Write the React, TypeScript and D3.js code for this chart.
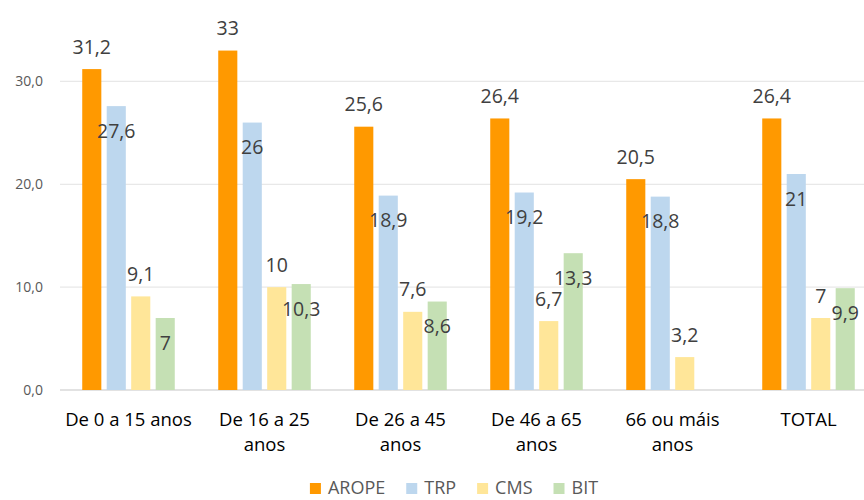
import React from "react";
import * as d3 from "d3";
import { useEffect, useRef } from "react";

// chart size
const width = 864;
const height = 500;

// data
const categories = [
  "De 0 a 15 anos",
  "De 16 a 25 anos",
  "De 26 a 45 anos",
  "De 46 a 65 anos",
  "66 ou máis anos",
  "TOTAL",
];
const series = ["AROPE", "TRP", "CMS", "BIT"];
const arope = [31.2, 33, 25.6, 26.4, 20.5, 26.4];
const trp = [27.6, 26, 18.9, 19.2, 18.8, 21];
const cms = [9.1, 10, 7.6, 6.7, 3.2, 7];
const bit = [7, 10.3, 8.6, 13.3, null, 9.9];
const yTicks = [0, 10, 20, 30];

const colors = ["#FF9900", "#BDD7EE", "#FFE699", "#C5E0B4"];
// TRP and BIT labels sit inside the bar end, the other two above it
const inside = [false, true, false, true];

const font = "'Open Sans', sans-serif";
const comma = (v: number) => String(v).replace(".", ",");

const App = () => {
  const ref = useRef<SVGSVGElement>(null);

  useEffect(() => {
    const svg = d3.select(ref.current);
    svg.selectAll("*").remove();

    const values = [arope, trp, cms, bit];
    const rows = categories.flatMap((c, i) =>
      series.map((s, j) => ({ c, s, j, v: values[j][i] }))
    );

    const x0 = d3
      .scaleBand()
      .domain(categories)
      .range([60.5, 876.5])
      .paddingInner(0.28)
      .paddingOuter(0.14);
    const x1 = d3
      .scaleBand()
      .domain(series)
      .range([0, x0.bandwidth()])
      .paddingInner(0.22)
      .paddingOuter(0.11);
    const y = d3.scaleLinear().domain([0, 35]).range([390, 30]);

    // gridlines
    svg
      .append("g")
      .selectAll("line")
      .data(yTicks)
      .join("line")
      .attr("x1", 60)
      .attr("x2", width)
      .attr("y1", (d) => y(d))
      .attr("y2", (d) => y(d))
      .attr("stroke", (d) => (d === 0 ? "#d9d9d9" : "#e8e8e8"))
      .attr("stroke-width", 1.3);

    // y tick labels
    svg
      .append("g")
      .selectAll("text")
      .data(yTicks)
      .join("text")
      .attr("x", 43)
      .attr("y", (d) => y(d))
      .attr("dy", "0.36em")
      .attr("text-anchor", "end")
      .attr("font-family", font)
      .attr("font-size", 14)
      .attr("fill", "#595959")
      .text((d) => d3.format(".1f")(d).replace(".", ","));

    // bars
    const bars = rows.filter((d) => d.v !== null);
    svg
      .append("g")
      .selectAll("rect")
      .data(bars)
      .join("rect")
      .attr("x", (d) => x0(d.c)! + x1(d.s)!)
      .attr("width", x1.bandwidth())
      .attr("y", (d) => y(d.v as number))
      .attr("height", (d) => y(0) - y(d.v as number))
      .attr("fill", (d) => colors[d.j]);

    // value labels
    svg
      .append("g")
      .selectAll("text")
      .data(bars)
      .join("text")
      .attr("x", (d) => x0(d.c)! + x1(d.s)! + x1.bandwidth() / 2)
      .attr("y", (d) => y(d.v as number) + (inside[d.j] ? 31.5 : -15.5))
      .attr("text-anchor", "middle")
      .attr("font-family", font)
      .attr("font-size", 19.5)
      .attr("fill", "#404040")
      .text((d) => comma(d.v as number));

    // category labels, wrapped like the original
    const cat = svg
      .append("g")
      .selectAll("text")
      .data(categories)
      .join("text")
      .attr("x", (d) => x0(d)! + x0.bandwidth() / 2)
      .attr("y", 426)
      .attr("text-anchor", "middle")
      .attr("font-family", font)
      .attr("font-size", 18.5)
      .attr("fill", "#000");
    cat.each(function (d) {
      const t = d3.select(this);
      const cx = +t.attr("x");
      const words = d.split(" ");
      let line: string[] = [];
      let lineNo = 0;
      let tspan = t.append("tspan").attr("x", cx).attr("y", 426);
      for (const w of words) {
        line.push(w);
        tspan.text(line.join(" "));
        if ((tspan.node() as SVGTSpanElement).getComputedTextLength() > 130 && line.length > 1) {
          line.pop();
          tspan.text(line.join(" "));
          line = [w];
          lineNo++;
          tspan = t
            .append("tspan")
            .attr("x", cx)
            .attr("y", 426 + lineNo * 25)
            .text(w);
        }
      }
    });

    // legend
    const legend = svg.append("g");
    const items = legend
      .selectAll("g")
      .data(series)
      .join("g");
    items
      .append("rect")
      .attr("width", 11)
      .attr("height", 11)
      .attr("y", 483)
      .attr("fill", (d, i) => colors[i]);
    items
      .append("text")
      .attr("x", 18)
      .attr("y", 494)
      .attr("font-family", font)
      .attr("font-size", 18)
      .attr("fill", "#595959")
      .text((d) => d);
    let pos = 0;
    const offsets: number[] = [];
    items.each(function () {
      offsets.push(pos);
      const w = (d3.select(this).select("text").node() as SVGTextElement).getComputedTextLength();
      pos += 18 + w + 21;
    });
    const total = pos - 21;
    const start = 454 - total / 2;
    items.attr("transform", (d, i) => `translate(${start + offsets[i]},0)`);
  }, []);

  return (
    <svg
      ref={ref}
      width={width}
      height={height}
      style={{ position: "absolute", left: 0, top: 0, background: "#fff" }}
    />
  );
};

export default App;
